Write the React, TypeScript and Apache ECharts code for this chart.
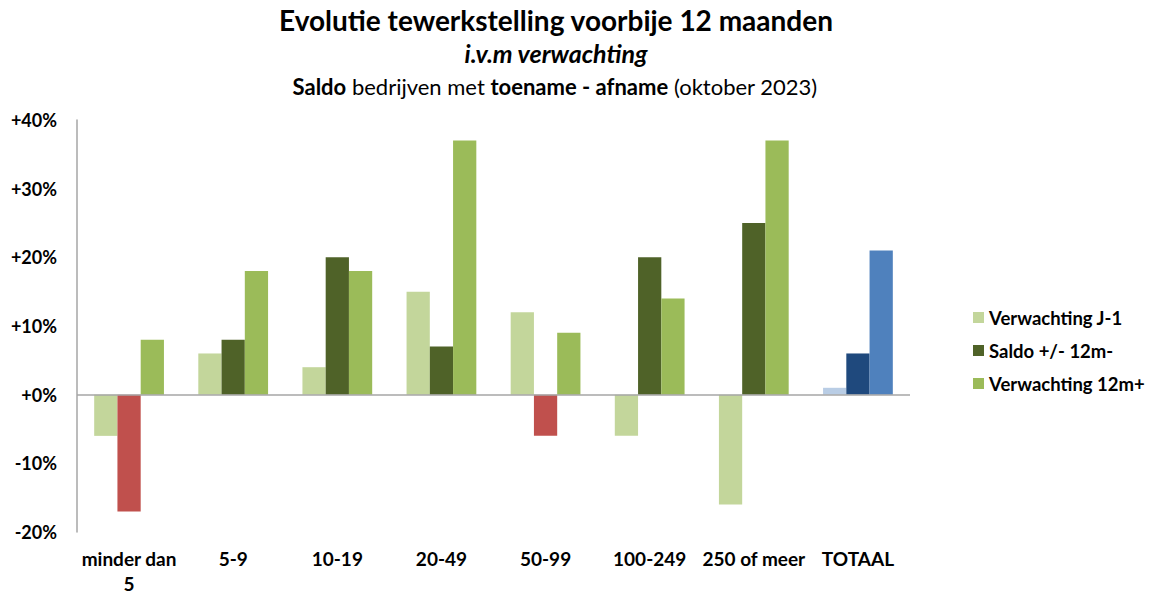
import React, { useEffect, useRef } from "react";
import * as echarts from "echarts";

const categories = ["minder dan\n5", "5-9", "10-19", "20-49", "50-99", "100-249", "250 of meer", "TOTAAL"];
const verwachtingJ1 = [-6, 6, 4, 15, 12, -6, -16, 1];
const saldo12m = [-17, 8, 20, 7, -6, 20, 25, 6];
const verwachting12m = [8, 18, 18, 37, 9, 14, 37, 21];
const seriesNames = ["Verwachting J-1", "Saldo +/- 12m-", "Verwachting 12m+"];
const yTicks = { min: -20, max: 40, interval: 10 };

const FONT = "Lato, 'Open Sans', sans-serif";
const C_LIGHT = "#C3D69B";
const C_DARK = "#4F6228";
const C_MID = "#9BBB59";
const C_RED = "#C0504D";
const C_BLUE_LIGHT = "#B9CDE5";
const C_BLUE_DARK = "#1F497D";
const C_BLUE = "#4F81BD";

export default function App() {
  const ref = useRef<HTMLDivElement>(null);
  useEffect(() => {
    if (!ref.current) return;
    const chart = echarts.init(ref.current, null, { renderer: "svg" });
    const last = categories.length - 1;
    const j1Data = verwachtingJ1.map((v, i) =>
      i === last ? { value: v, itemStyle: { color: C_BLUE_LIGHT } } : v
    );
    const saldoData = saldo12m.map((v, i) => {
      if (i === last) return { value: v, itemStyle: { color: C_BLUE_DARK } };
      if (v < 0) return { value: v, itemStyle: { color: C_RED } };
      return v;
    });
    const v12Data = verwachting12m.map((v, i) =>
      i === last ? { value: v, itemStyle: { color: C_BLUE } } : v
    );
    chart.setOption({
      animation: false,
      backgroundColor: "#ffffff",
      graphic: [
        {
          type: "text",
          x: 556,
          y: 20,
          silent: true,
          style: {
            text: "Evolutie tewerkstelling voorbije 12 maanden",
            align: "center",
            verticalAlign: "middle",
            fontFamily: FONT,
            fontSize: 28,
            fontWeight: "bold",
            fill: "#000",
          },
        },
        {
          type: "text",
          x: 556,
          y: 53,
          silent: true,
          style: {
            text: "i.v.m verwachting",
            align: "center",
            verticalAlign: "middle",
            fontFamily: FONT,
            fontSize: 25,
            fontWeight: "bold",
            fontStyle: "italic",
            fill: "#000",
          },
        },
        {
          type: "text",
          x: 555,
          y: 86,
          silent: true,
          style: {
            text: "{b|Saldo} {n|bedrijven met} {b|toename - afname} {n|(oktober 2023)}",
            align: "center",
            verticalAlign: "middle",
            fontFamily: FONT,
            fontSize: 22,
            fill: "#000",
            rich: {
              b: { fontFamily: FONT, fontSize: 22, fontWeight: "bold", fill: "#000" },
              n: { fontFamily: FONT, fontSize: 22, fontWeight: "normal", fill: "#000" },
            },
          },
        },
      ],
      legend: {
        orient: "vertical",
        left: 968,
        top: 303,
        itemWidth: 11,
        itemHeight: 11,
        itemGap: 14,
        icon: "rect",
        data: seriesNames,
        textStyle: { fontFamily: FONT, fontSize: 18.5, fontWeight: "bold", color: "#000" },
      },
      grid: { left: 77, right: 241, top: 120, bottom: 58, containLabel: false },
      xAxis: {
        type: "category",
        data: categories,
        axisLine: { show: false },
        axisTick: { show: false },
        axisLabel: {
          margin: 14,
          interval: 0,
          fontFamily: FONT,
          fontSize: 19,
          fontWeight: "bold",
          color: "#000",
          lineHeight: 25,
        },
      },
      yAxis: {
        type: "value",
        min: yTicks.min,
        max: yTicks.max,
        interval: yTicks.interval,
        splitLine: { show: false },
        axisTick: { show: false },
        axisLine: { show: true, lineStyle: { color: "#A6A6A6", width: 1.5 } },
        axisLabel: {
          margin: 20,
          fontFamily: FONT,
          fontSize: 18,
          fontWeight: "bold",
          color: "#000",
          formatter: (v: number) => (v >= 0 ? "+" + v + "%" : v + "%"),
        },
      },
      series: [
        {
          name: seriesNames[0],
          type: "bar",
          data: j1Data,
          itemStyle: { color: C_LIGHT },
          barGap: "0%",
          barCategoryGap: "33%",
          markLine: {
            silent: true,
            symbol: "none",
            label: { show: false },
            lineStyle: { color: "#A6A6A6", width: 1.5, type: "solid" },
            data: [{ yAxis: 0 }],
          },
        },
        {
          name: seriesNames[1],
          type: "bar",
          data: saldoData,
          itemStyle: { color: C_DARK },
          barGap: "0%",
          barCategoryGap: "33%",
        },
        {
          name: seriesNames[2],
          type: "bar",
          data: v12Data,
          itemStyle: { color: C_MID },
          barGap: "0%",
          barCategoryGap: "33%",
        },
      ],
    });
    return () => chart.dispose();
  }, []);
  return (
    <div
      ref={ref}
      style={{ position: "fixed", left: 0, top: 0, width: 1151, height: 596, background: "#fff" }}
    />
  );
}
